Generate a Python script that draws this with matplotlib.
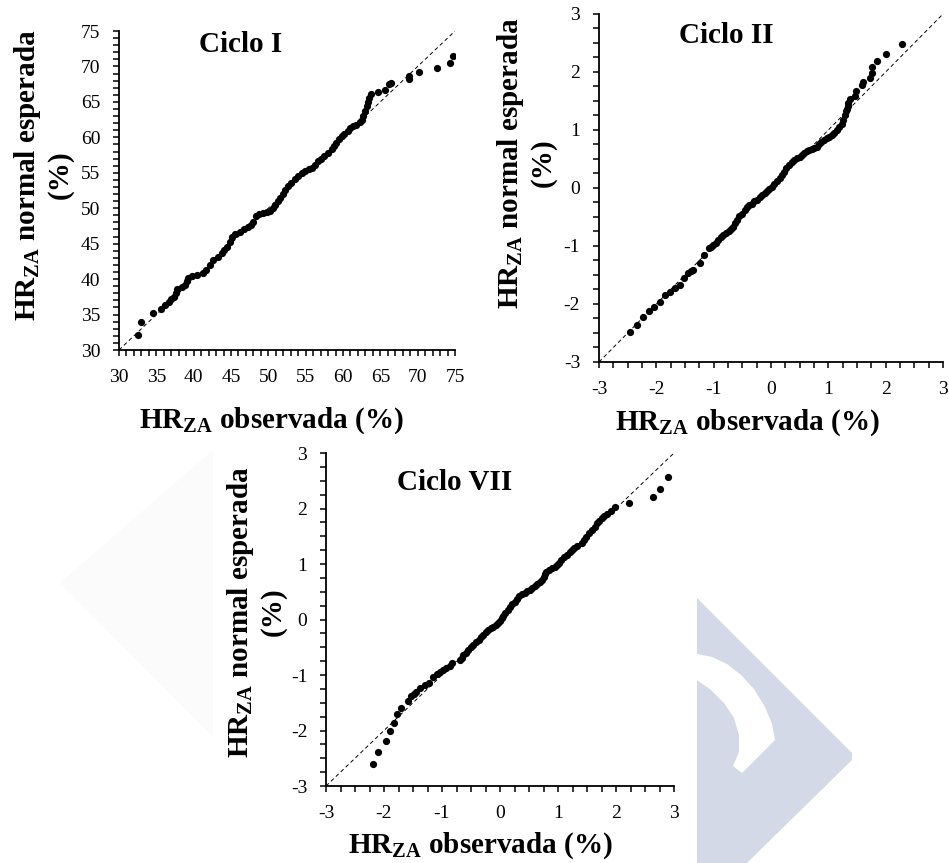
import numpy as np
import matplotlib
matplotlib.use("Agg")
import matplotlib.pyplot as plt
from matplotlib.patches import Polygon

plt.rcParams['font.family'] = 'Liberation Serif'
plt.rcParams['mathtext.fontset'] = 'custom'
plt.rcParams['mathtext.rm'] = 'Liberation Serif'
plt.rcParams['mathtext.bf'] = 'Liberation Serif:bold'

# Ciclo I (observed vs expected normal, %)
obs_1 = [32.5, 32.9, 34.5, 35.6, 36.2, 36.7, 37.0, 37.3, 37.6, 37.8, 38.5, 38.8, 39.1, 39.3,
         39.8, 40.4, 41.3, 41.7, 42.2, 42.6, 43.2, 43.8, 44.1, 44.4, 44.8, 45.1, 45.6, 46.2,
         46.8, 47.3, 47.7, 48.0, 48.4, 48.8, 49.3, 49.8, 50.2, 50.6, 50.9, 51.3, 51.6, 51.9,
         52.2, 52.7, 53.1, 53.6, 54.0, 54.5, 54.9, 55.4, 55.8, 56.2, 56.7, 57.0, 57.4, 58.0,
         58.5, 58.8, 59.1, 59.4, 59.8, 60.2, 60.7, 61.0, 61.4, 61.8, 62.3, 62.5, 62.7, 63.0,
         63.2, 63.4, 63.5, 63.8, 64.7, 65.6, 66.1, 66.4, 68.9, 68.9, 70.2, 72.6, 74.3, 74.7]
exp_1 = [32.1, 33.9, 35.2, 35.8, 36.4, 36.8, 37.2, 37.5, 38.0, 38.6, 38.9, 39.2, 39.7, 40.1,
         40.4, 40.6, 40.8, 41.3, 42.0, 42.7, 43.1, 43.7, 44.1, 44.6, 45.3, 46.0, 46.3, 46.7,
         47.0, 47.4, 47.7, 48.1, 48.9, 49.2, 49.3, 49.4, 49.6, 50.0, 50.5, 51.0, 51.5, 52.0,
         52.6, 53.1, 53.6, 54.1, 54.6, 54.9, 55.2, 55.5, 55.7, 56.1, 56.6, 57.0, 57.4, 57.8,
         58.3, 58.8, 59.2, 59.7, 60.2, 60.5, 60.9, 61.3, 61.6, 61.8, 62.1, 62.5, 63.0, 63.7,
         64.4, 65.0, 65.6, 66.1, 66.4, 66.7, 67.5, 67.7, 68.2, 68.6, 69.2, 69.8, 70.5, 71.5]

# Ciclo II (standardised)
obs_2 = [-2.46, -2.34, -2.23, -2.12, -2.04, -1.94, -1.85, -1.76, -1.67, -1.59, -1.52, -1.44,
         -1.40, -1.36, -1.24, -1.16, -1.09, -1.05, -1.01, -0.96, -0.92, -0.87, -0.83, -0.78,
         -0.74, -0.70, -0.66, -0.63, -0.60, -0.55, -0.51, -0.46, -0.42, -0.38, -0.34, -0.29,
         -0.25, -0.20, -0.16, -0.11, -0.07, -0.03, 0.01, 0.06, 0.10, 0.15, 0.19, 0.23, 0.27,
         0.32, 0.36, 0.40, 0.45, 0.50, 0.54, 0.58, 0.62, 0.66, 0.71, 0.75, 0.80, 0.84, 0.88,
         0.92, 0.97, 1.01, 1.06, 1.10, 1.15, 1.19, 1.23, 1.26, 1.29, 1.31, 1.32, 1.34, 1.35,
         1.37, 1.47, 1.49, 1.58, 1.61, 1.73, 1.76, 1.77, 1.85, 2.00, 2.28]
exp_2 = [-2.49, -2.36, -2.22, -2.12, -2.05, -1.96, -1.84, -1.79, -1.73, -1.67, -1.56, -1.46,
         -1.43, -1.41, -1.29, -1.16, -1.04, -1.01, -0.98, -0.94, -0.90, -0.85, -0.81, -0.77,
         -0.74, -0.70, -0.67, -0.61, -0.55, -0.49, -0.44, -0.38, -0.32, -0.29, -0.27, -0.23,
         -0.20, -0.16, -0.12, -0.09, -0.06, -0.02, 0.02, 0.07, 0.12, 0.17, 0.22, 0.28, 0.34,
         0.40, 0.45, 0.48, 0.51, 0.54, 0.57, 0.60, 0.63, 0.65, 0.67, 0.69, 0.71, 0.76, 0.80,
         0.83, 0.86, 0.88, 0.91, 0.95, 1.00, 1.05, 1.11, 1.18, 1.26, 1.32, 1.37, 1.42, 1.46,
         1.53, 1.59, 1.67, 1.78, 1.83, 1.89, 1.98, 2.09, 2.19, 2.31, 2.48]

# Ciclo VII (standardised)
obs_7 = [-2.19, -2.11, -1.97, -1.90, -1.83, -1.77, -1.71, -1.58, -1.53, -1.49, -1.45, -1.38,
         -1.29, -1.22, -1.15, -1.09, -1.03, -0.98, -0.93, -0.87, -0.82, -0.69, -0.66, -0.63,
         -0.59, -0.55, -0.50, -0.46, -0.41, -0.37, -0.33, -0.29, -0.24, -0.20, -0.16, -0.12,
         -0.07, -0.03, 0.00, 0.03, 0.06, 0.09, 0.13, 0.17, 0.21, 0.26, 0.30, 0.33, 0.38, 0.43,
         0.47, 0.52, 0.56, 0.60, 0.64, 0.69, 0.72, 0.75, 0.78, 0.80, 0.85, 0.89, 0.94, 0.98,
         1.02, 1.06, 1.11, 1.15, 1.20, 1.24, 1.28, 1.32, 1.41, 1.45, 1.49, 1.54, 1.58, 1.63,
         1.67, 1.71, 1.75, 1.80, 1.84, 1.91, 1.98, 2.23, 2.63, 2.76, 2.90]
exp_7 = [-2.61, -2.39, -2.19, -2.00, -1.87, -1.71, -1.59, -1.47, -1.38, -1.34, -1.30, -1.23,
         -1.18, -1.14, -1.03, -0.99, -0.94, -0.91, -0.88, -0.83, -0.78, -0.73, -0.69, -0.64,
         -0.60, -0.55, -0.50, -0.46, -0.41, -0.37, -0.32, -0.28, -0.23, -0.19, -0.16, -0.13,
         -0.10, -0.07, -0.03, 0.02, 0.07, 0.12, 0.18, 0.23, 0.28, 0.32, 0.37, 0.42, 0.46, 0.48,
         0.51, 0.53, 0.56, 0.60, 0.64, 0.68, 0.72, 0.77, 0.82, 0.86, 0.89, 0.92, 0.95, 0.98,
         1.02, 1.07, 1.12, 1.16, 1.21, 1.25, 1.29, 1.32, 1.38, 1.43, 1.49, 1.55, 1.61, 1.67,
         1.73, 1.78, 1.82, 1.86, 1.90, 1.96, 2.02, 2.10, 2.21, 2.36, 2.57]

titles = ["Ciclo I", "Ciclo II", "Ciclo VII"]
xlab = "$\\mathbf{HR}_{\\mathbf{ZA}}$ observada (%)"
ylab = "$\\mathbf{HR}_{\\mathbf{ZA}}$ normal esperada\n(%)"

W, H = 949, 863
fig = plt.figure(figsize=(W / 100, H / 100), dpi=100)


def fx(x):
    return x / W


def fy(y):
    return 1 - y / H


def shape(pts, color):
    # decorative watermark polygon given in pixel coords
    fig.add_artist(Polygon([(fx(x), fy(y)) for x, y in pts], closed=True,
                           transform=fig.transFigure, color=color, lw=0, zorder=0))


shape([(213, 450), (60, 583), (213, 737)], '#fbfbfb')
shape([(697, 598), (852, 753), (852, 760), (747, 863), (697, 863)], '#d4d9e8')
shape([(697, 654), (712, 657), (727, 664), (741, 675), (754, 689), (765, 707),
       (772, 724), (775, 740), (742, 773), (733, 766), (739, 752), (739, 735),
       (734, 718), (724, 703), (711, 690), (697, 680)], 'white')


def qq_panel(box, obs, exp, lims, major, minor, title, title_xy, xlab_xy, ylab_xy):
    l, t, r, b = box
    ax = fig.add_axes([fx(l), fy(b), fx(r - l), (b - t) / H])
    ax.set_facecolor('none')
    ax.plot(lims, lims, color='black', lw=0.7, ls=(0, (4, 3)), zorder=1)
    ax.plot(obs, exp, 'o', color='black', ms=5.2, mew=0, zorder=2)
    ax.set_xlim(lims)
    ax.set_ylim(lims)
    ticks = np.arange(lims[0], lims[1] + major / 2, major)
    ax.set_xticks(ticks)
    ax.set_yticks(ticks)
    ax.set_xticklabels(['%g' % v for v in ticks])
    ax.set_yticklabels(['%g' % v for v in ticks])
    ax.set_xticks(np.arange(lims[0], lims[1] + minor / 2, minor), minor=True)
    ax.set_yticks(np.arange(lims[0], lims[1] + minor / 2, minor), minor=True)
    for s in ['top', 'right']:
        ax.spines[s].set_visible(False)
    for s in ['left', 'bottom']:
        ax.spines[s].set_linewidth(1.3)
    ax.tick_params(which='both', direction='out', length=4.5, width=1.1, labelsize=14, pad=9)
    ax.tick_params(which='minor', length=4)
    fig.text(fx(title_xy[0]), fy(title_xy[1]), title, ha='center', va='baseline',
             fontsize=21, fontweight='bold')
    fig.text(fx(xlab_xy[0]), fy(xlab_xy[1]), xlab, ha='center', va='baseline',
             fontsize=21, fontweight='bold')
    fig.text(fx(ylab_xy[0]), fy(ylab_xy[1]), ylab, ha='center', va='center', rotation=90,
             multialignment='center', fontsize=21, fontweight='bold', linespacing=1.15)
    return ax


qq_panel((119, 31, 455, 350), obs_1, exp_1, (30, 75), 5, 1, titles[0],
         (241, 52), (271, 428), (43, 175))
qq_panel((599, 14, 943, 362), obs_2, exp_2, (-3, 3), 1, 0.25, titles[1],
         (726, 43), (747, 430), (526, 163))
qq_panel((326, 453, 674, 786), obs_7, exp_7, (-3, 3), 1, 0.25, titles[2],
         (455, 490), (480, 853), (256, 612))

fig.savefig("out.png", dpi=100)
